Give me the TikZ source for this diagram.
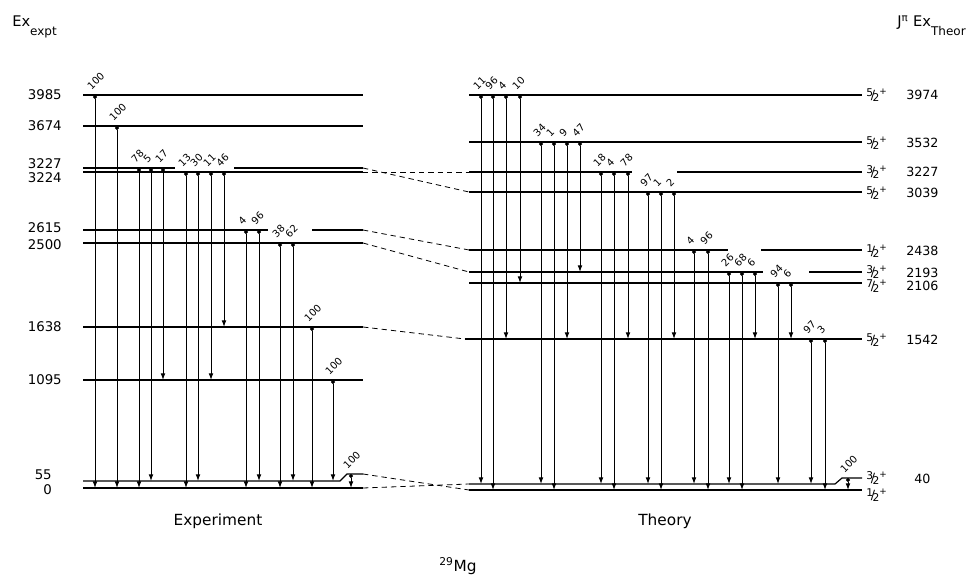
\documentclass[tikz,border=0pt]{standalone}
\usepackage{fontspec}
\setmainfont{DejaVu Sans}
\usetikzlibrary{arrows.meta, calc, positioning}
\newcommand{\hf}[2]{\raisebox{0.5ex}{\footnotesize #1}\kern-0.18em/\kern-0.2em\raisebox{-0.25ex}{\footnotesize #2}\textsuperscript{+}}
\tikzset{
    lev/.style={line width=0.9pt},
    gnd/.style={line width=1.6pt},
    gam/.style={{Circle[length=3pt]}-{Latex[length=5pt,width=3.6pt]}, line width=0.7pt},
    corr/.style={dash pattern=on 4pt off 3pt, line width=0.6pt},
    elab/.style={anchor=east, inner sep=0pt, font=\fontsize{10}{11}\selectfont},
    tlab/.style={anchor=west, inner sep=0pt, font=\fontsize{9.5}{10}\selectfont},
    ilab/.style={anchor=south west, inner sep=0pt, xshift=-2.5pt, yshift=3pt, rotate=45,
        font=\fontsize{7.5}{9}\selectfont},
    head/.style={inner sep=0pt, font=\fontsize{11}{12}\selectfont},
    title/.style={inner sep=0pt, font=\fontsize{11.5}{13}\selectfont},
}
\begin{document}
\begin{tikzpicture}[x=0.75pt, y=-0.75pt]
    \useasboundingbox (0,0) rectangle (968,581);

    % experimental levels
    \draw[lev] (83,95) coordinate (ex3985) -- (363,95) coordinate (ex3985r);
    \draw[lev] (83,126) coordinate (ex3674) -- (363,126) coordinate (ex3674r);
    \draw[lev] (83,168) coordinate (ex3227) -- (175,168) (234,168) -- (363,168) coordinate (ex3227r);
    \draw[lev] (83,172) coordinate (ex3224) -- (363,172) coordinate (ex3224r);
    \draw[lev] (83,230) coordinate (ex2615) -- (268,230) (312,230) -- (363,230) coordinate (ex2615r);
    \draw[lev] (83,243) coordinate (ex2500) -- (363,243) coordinate (ex2500r);
    \draw[lev] (83,327) coordinate (ex1638) -- (363,327) coordinate (ex1638r);
    \draw[lev] (83,380) coordinate (ex1095) -- (363,380) coordinate (ex1095r);
    \draw[lev] (83,481) coordinate (ex55) -- (340,481) -- (347,474) coordinate (ex55s) -- (363,474) coordinate (ex55r);
    \draw[gnd] (83,488) coordinate (ex0) -- (363,488) coordinate (ex0r);

    \node[elab] (le3985) at (62,95) {3985};
    \node[elab] (le3674) at (62,126) {3674};
    \node[elab] (le3227) at (62,164) {3227};
    \node[elab] (le3224) at (62,178) {3224};
    \node[elab] (le2615) at (62,228) {2615};
    \node[elab] (le2500) at (62,245) {2500};
    \node[elab] (le1638) at (62,327) {1638};
    \node[elab] (le1095) at (62,380) {1095};
    \node[elab] (le55) at (52,475) {55};
    \node[elab] (le0) at (52,490) {0};

    % experimental gamma rays
    \draw[gam] (95,0 |- ex3985) node[ilab] (ia1) {100} -- (95,0 |- ex0);
    \draw[gam] (117,0 |- ex3674) node[ilab] (ia2) {100} -- (117,0 |- ex0);
    \draw[gam] (139,0 |- ex3227) node[ilab] (ia3) {78} -- (139,0 |- ex0);
    \draw[gam] (151,0 |- ex3227) node[ilab] (ia4) {5} -- (151,0 |- ex55);
    \draw[gam] (163,0 |- ex3227) node[ilab] (ia5) {17} -- (163,0 |- ex1095);
    \draw[gam] (186,0 |- ex3224) node[ilab] (ia6) {13} -- (186,0 |- ex0);
    \draw[gam] (198,0 |- ex3224) node[ilab] (ia7) {30} -- (198,0 |- ex55);
    \draw[gam] (211,0 |- ex3224) node[ilab] (ia8) {11} -- (211,0 |- ex1095);
    \draw[gam] (224,0 |- ex3224) node[ilab] (ia9) {46} -- (224,0 |- ex1638);
    \draw[gam] (246,0 |- ex2615) node[ilab] (ia10) {4} -- (246,0 |- ex0);
    \draw[gam] (259,0 |- ex2615) node[ilab] (ia11) {96} -- (259,0 |- ex55);
    \draw[gam] (280,0 |- ex2500) node[ilab] (ia12) {38} -- (280,0 |- ex0);
    \draw[gam] (293,0 |- ex2500) node[ilab] (ia13) {62} -- (293,0 |- ex55);
    \draw[gam] (312,0 |- ex1638) node[ilab] (ia14) {100} -- (312,0 |- ex0);
    \draw[gam] (333,0 |- ex1095) node[ilab] (ia15) {100} -- (333,0 |- ex55);
    \draw[gam] (351,0 |- ex55s) node[ilab] (ia16) {100} -- (351,0 |- ex0);

    % theoretical levels
    \draw[lev] (469,95) coordinate (th3974) -- (862,95) coordinate (th3974r);
    \draw[lev] (469,142) coordinate (th3532) -- (862,142) coordinate (th3532r);
    \draw[lev] (469,172) coordinate (th3227) -- (632,172) (677,172) -- (862,172) coordinate (th3227r);
    \draw[lev] (469,192) coordinate (th3039) -- (862,192) coordinate (th3039r);
    \draw[lev] (469,250) coordinate (th2438) -- (728,250) (761,250) -- (862,250) coordinate (th2438r);
    \draw[lev] (469,272) coordinate (th2193) -- (763,272) (809,272) -- (862,272) coordinate (th2193r);
    \draw[lev] (469,283) coordinate (th2106) -- (862,283) coordinate (th2106r);
    \draw[lev] (465,339) coordinate (th1542) -- (862,339) coordinate (th1542r);
    \draw[lev] (469,484) coordinate (th40) -- (835,484) -- (842,478) coordinate (th40s) -- (862,478) coordinate (th40r);
    \draw[gnd] (469,490) coordinate (th0) -- (862,490) coordinate (th0r);

    \node[tlab] (js3974) at (866,95) {\hf52};
    \node[tlab] (lt3974) at (906,95) {3974};
    \node[tlab] (js3532) at (866,143) {\hf52};
    \node[tlab] (lt3532) at (906,143) {3532};
    \node[tlab] (js3227) at (866,172) {\hf32};
    \node[tlab] (lt3227) at (906,172) {3227};
    \node[tlab] (js3039) at (866,193) {\hf52};
    \node[tlab] (lt3039) at (906,193) {3039};
    \node[tlab] (js2438) at (866,251) {\hf12};
    \node[tlab] (lt2438) at (906,251) {2438};
    \node[tlab] (js2193) at (866,272) {\hf32};
    \node[tlab] (lt2193) at (906,273) {2193};
    \node[tlab] (js2106) at (866,286) {\hf72};
    \node[tlab] (lt2106) at (906,286) {2106};
    \node[tlab] (js1542) at (866,340) {\hf52};
    \node[tlab] (lt1542) at (906,340) {1542};
    \node[tlab] (js40) at (866,478) {\hf32};
    \node[tlab] (lt40) at (914,479) {40};
    \node[tlab] (js0) at (866,495) {\hf12};

    % theoretical gamma rays
    \draw[gam] (481,0 |- th3974) node[ilab] (ib1) {11} -- (481,0 |- th40);
    \draw[gam] (493,0 |- th3974) node[ilab] (ib2) {96} -- (493,0 |- th0);
    \draw[gam] (506,0 |- th3974) node[ilab] (ib3) {4} -- (506,0 |- th1542);
    \draw[gam] (520,0 |- th3974) node[ilab] (ib4) {10} -- (520,0 |- th2106);
    \draw[gam] (541,0 |- th3532) node[ilab] (ib5) {34} -- (541,0 |- th40);
    \draw[gam] (554,0 |- th3532) node[ilab] (ib6) {1} -- (554,0 |- th0);
    \draw[gam] (567,0 |- th3532) node[ilab] (ib7) {9} -- (567,0 |- th1542);
    \draw[gam] (580,0 |- th3532) node[ilab] (ib8) {47} -- (580,0 |- th2193);
    \draw[gam] (601,0 |- th3227) node[ilab] (ib9) {18} -- (601,0 |- th40);
    \draw[gam] (614,0 |- th3227) node[ilab] (ib10) {4} -- (614,0 |- th0);
    \draw[gam] (628,0 |- th3227) node[ilab] (ib11) {78} -- (628,0 |- th1542);
    \draw[gam] (648,0 |- th3039) node[ilab] (ib12) {97} -- (648,0 |- th40);
    \draw[gam] (661,0 |- th3039) node[ilab] (ib13) {1} -- (661,0 |- th0);
    \draw[gam] (674,0 |- th3039) node[ilab] (ib14) {2} -- (674,0 |- th1542);
    \draw[gam] (694,0 |- th2438) node[ilab] (ib15) {4} -- (694,0 |- th40);
    \draw[gam] (708,0 |- th2438) node[ilab] (ib16) {96} -- (708,0 |- th0);
    \draw[gam] (729,0 |- th2193) node[ilab] (ib17) {26} -- (729,0 |- th40);
    \draw[gam] (742,0 |- th2193) node[ilab] (ib18) {68} -- (742,0 |- th0);
    \draw[gam] (755,0 |- th2193) node[ilab] (ib19) {6} -- (755,0 |- th1542);
    \draw[gam] (778,0 |- th2106) node[ilab] (ib20) {94} -- (778,0 |- th40);
    \draw[gam] (791,0 |- th2106) node[ilab] (ib21) {6} -- (791,0 |- th1542);
    \draw[gam] (811,0 |- th1542) node[ilab] (ib22) {97} -- (811,0 |- th40);
    \draw[gam] (825,0 |- th1542) node[ilab] (ib23) {3} -- (825,0 |- th0);
    \draw[gam] (848,0 |- th40s) node[ilab] (ib24) {100} -- (848,0 |- th0);

    % correspondence
    \draw[corr] (ex3227r) -- (th3039);
    \draw[corr] (ex3224r) -- (th3227);
    \draw[corr] (ex2615r) -- (th2438);
    \draw[corr] (ex2500r) -- (th2193);
    \draw[corr] (ex1638r) -- (th1542);
    \draw[corr] (ex55r) -- (th0);
    \draw[corr] (ex0r) -- (th40);

    % headings
    \node[head, anchor=base west] (hexp) at (12,27) {Ex\raisebox{-1.1ex}{\small expt}};
    \node[head, anchor=base east] (hth) at (966,27) {J\textsuperscript{π} Ex\raisebox{-1.1ex}{\small Theor}};
    \node[title] (lexp) at (218,521) {Experiment};
    \node[title] (lth) at (665,521) {Theory};
    \node[title] (nuc) at (458,566) {\textsuperscript{29}Mg};
\end{tikzpicture}
\end{document}
